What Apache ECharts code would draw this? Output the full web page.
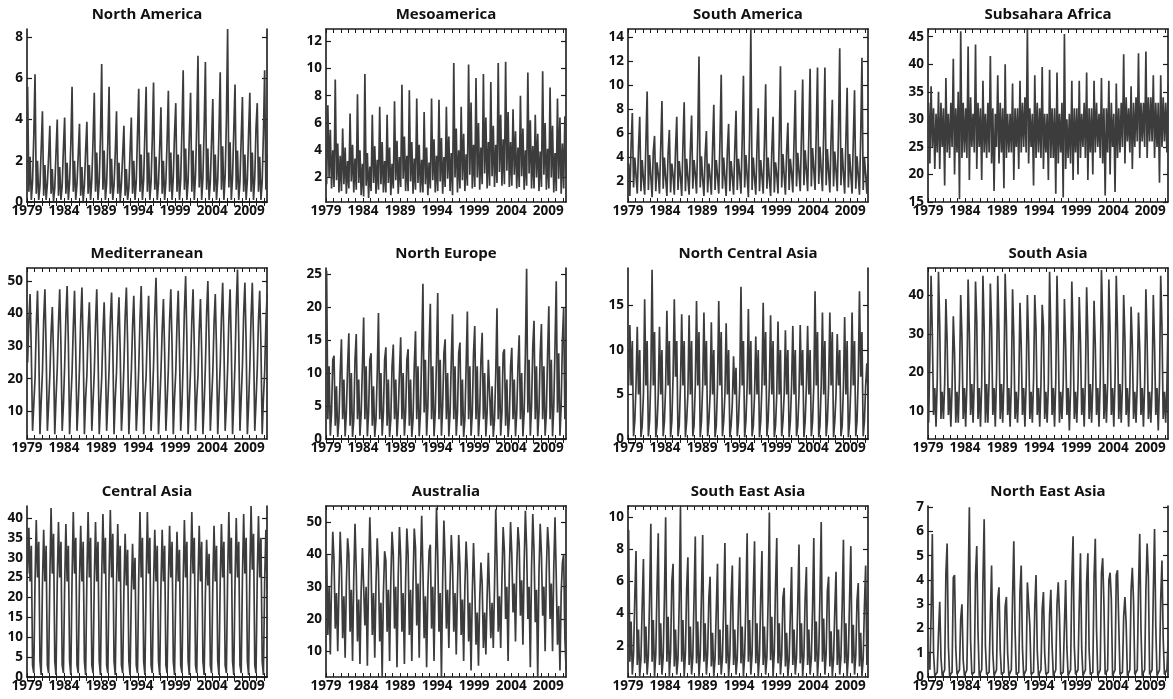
<!DOCTYPE html>
<html><head><meta charset="utf-8">
<script src="https://cdn.jsdelivr.net/npm/echarts@6/dist/echarts.min.js"></script>
<style>html,body{margin:0;padding:0;background:#fff}#c{width:1173px;height:699px}</style>
</head><body><div id="c"></div>
<script>
// ---------- data (6 readings per year: Jan-Feb .. Nov-Dec), 1979 .. early 2011 ----------
const startYear = 1979;
const stepsPerYear = 6;
const regionNames = ["North America","Mesoamerica","South America","Subsahara Africa",
  "Mediterranean","North Europe","North Central Asia","South Asia",
  "Central Asia","Australia","South East Asia","North East Asia"];
const yearTicks = [1979,1980,1981,1982,1983,1984,1985,1986,1987,1988,1989,1990,1991,1992,1993,1994,1995,1996,1997,1998,1999,2000,2001,2002,2003,2004,2005,2006,2007,2008,2009,2010,2011];
const yearLabels = [1979,1984,1989,1994,1999,2004,2009];

const northAmerica = [
5.6,.5,2.2,.1,1.0,3.2, 6.2,.4,2.0,.1,.8,2.6, 4.4,.3,1.8,.1,.9,2.2, 3.7,.4,1.6,.05,.7,2.4,
4.0,.3,1.7,.1,.8,2.6, 4.1,.4,1.9,.1,1.0,2.8, 5.6,.5,2.0,.1,.9,2.3, 3.8,.3,1.7,.05,.8,2.5,
3.9,.4,1.8,.1,1.1,3.0, 5.3,.5,2.4,.1,1.0,3.2, 6.7,.6,2.5,.1,.9,2.9, 5.6,.4,2.1,.1,.8,2.4,
4.4,.4,1.9,.05,.9,2.3, 3.7,.3,1.6,.1,.7,2.5, 4.1,.4,2.0,.1,1.0,3.3, 5.5,.5,2.3,.1,1.1,3.4,
5.6,.5,2.4,.1,1.0,3.1, 5.8,.6,2.2,.1,.9,2.7, 4.6,.4,2.0,.1,1.0,3.0, 5.4,.5,2.4,.1,1.2,3.3,
4.8,.5,2.3,.1,1.1,3.5, 6.4,.6,2.6,.1,1.0,3.2, 5.3,.5,2.5,.1,1.3,3.8, 7.1,.7,2.8,.1,1.2,3.6,
6.8,.6,2.6,.1,1.0,3.0, 5.0,.5,2.3,.1,1.1,3.4, 6.3,.6,2.7,.1,1.3,3.9, 8.4,.7,2.9,.1,1.2,3.5,
5.7,.6,2.5,.1,1.0,3.1, 5.1,.5,2.3,.1,1.1,3.4, 5.3,.5,2.4,.1,1.2,3.6, 4.8,.5,2.2,.1,1.0,3.3,
6.4,.6,2.3];
const mesoamerica = [
1.5,7.3,2.0,5.5,1.2,4.0, 1.3,9.2,1.8,4.5,.9,3.6, 1.0,5.6,1.5,4.2,.8,3.2, 1.2,6.7,1.7,4.4,.9,3.4,
1.1,8.1,1.6,4.0,.7,3.0, .6,9.6,1.4,3.8,.5,2.8, 1.0,6.6,1.6,4.3,.8,3.3, 1.1,7.2,1.5,4.6,.9,3.2,
.9,6.6,1.6,4.2,.7,3.0, 1.2,7.6,1.8,4.7,.8,3.5, 1.3,8.8,1.9,5.0,1.0,3.6, 1.0,8.4,1.7,4.6,.8,3.4,
1.1,7.8,1.6,4.4,.9,3.3, .9,6.8,1.5,4.2,.7,3.1, 1.2,7.8,1.8,4.8,.9,3.6, 1.0,7.7,1.7,4.9,.8,3.5,
1.3,7.2,1.9,5.0,1.0,3.8, .7,10.4,2.0,5.6,.9,4.0, 1.2,7.2,1.8,5.2,1.0,3.7, 1.4,10.3,2.2,7.5,1.2,4.4,
1.3,9.3,2.0,6.0,1.1,4.2, 1.5,9.6,2.3,6.4,1.2,4.6, 1.4,9.0,2.1,5.8,1.3,4.4, 1.6,10.4,2.4,6.6,1.4,4.8,
1.5,10.5,2.5,6.8,1.3,4.6, 1.4,7.0,2.2,5.4,1.2,4.2, 1.3,8.0,2.1,5.6,1.1,4.0, 1.4,9.7,2.3,6.2,1.2,4.3,
1.2,6.6,2.0,5.2,1.0,3.9, 1.3,9.8,2.2,6.0,1.1,4.1, 1.2,8.6,2.0,5.8,.9,3.8, 1.0,7.8,1.9,6.4,.8,4.5,
1.2,6.5,2.0];
const southAmerica = [
3.5,.8,5.0,7.7,1.5,4.0, 2.5,1.0,4.8,7.4,1.2,3.8, 2.2,.9,5.2,9.5,1.3,4.2, 2.4,.7,4.5,5.8,1.2,3.6,
2.6,1.0,4.9,8.7,1.4,4.0, 2.3,.8,4.4,6.3,1.1,3.5, 2.5,.9,4.7,7.4,1.3,3.7, 2.4,.8,5.0,8.6,1.2,3.9,
2.3,.9,4.6,7.5,1.4,3.8, 2.6,1.0,5.6,12.4,1.5,4.1, 2.2,.8,4.3,6.2,1.1,3.5, 2.4,.9,4.8,8.4,1.3,3.8,
2.5,1.0,5.4,10.9,1.4,4.0, 2.3,.8,4.6,6.8,1.2,3.7, 2.4,.9,4.7,7.9,1.3,3.9, 2.6,1.0,5.5,10.8,1.5,4.2,
2.5,.7,6.0,14.7,1.3,4.0, 2.3,.9,4.9,8.1,1.2,3.8, 2.5,1.0,5.2,10.1,1.4,4.0, 2.2,.8,4.6,7.4,1.1,3.6,
2.6,1.0,5.5,11.6,1.5,4.3, 2.5,.9,4.5,6.9,1.3,3.9, 2.7,1.1,5.4,9.6,1.6,4.4, 2.8,1.2,5.8,10.5,1.7,4.6,
2.9,1.2,6.0,11.4,1.6,4.8, 3.0,1.3,6.2,11.5,1.8,4.9, 2.9,1.2,6.0,11.5,1.7,4.7, 2.8,1.1,5.6,8.8,1.6,4.5,
2.9,1.2,6.2,13.1,1.7,4.8, 2.7,1.0,5.5,9.8,1.5,4.3, 2.6,1.0,5.4,9.6,1.4,4.1, 2.5,.9,5.8,12.3,1.3,4.0,
2.6,1.0,3.5];
const subsaharaAfrica = [
33,22,36,25,32,21, 31,24,35,21,33,25, 32,18,37.5,24,31,23, 33,25,41,20,32,24,
35,15.5,46,23,33,24, 32,23,43.2,19,34,25, 31,24,43.6,21,33,25, 32,19,37,24,31,23,
33,24,41.5,22,32,17, 31,25,38,22,33,24, 32,17.5,40,23,31,24, 31,24,36.5,19,32,25,
32,21,37,24,33,25, 34,24,46.5,22,32,25, 31,18,38,23,33,24, 32,23,39.5,21,31,24,
31,19,39,23,32,23, 32,16.5,38.5,22,31,24, 33,15.8,45.5,21,30,23, 31,22,37,19,32,24,
32,20,37,23,31,25, 33,23,38.5,19,32,24, 32,20,37,24,33,25, 31,23,37.5,22,32,16.2,
32,24,37,20,33,25, 31,16.8,36.5,23,32,24, 33,25,41.8,22,34,26, 32,24,36,21,33,25,
34,26,42,23,33,26, 33,25,42.3,23,34,26, 34,26,38,23,33,25, 33,18.5,38,25,34,26,
33,24,36.5];
const mediterranean = [
25,38,46,28,4,12, 20,36,47,30,3,13, 22,38,47.5,29,4,12, 21,34,42,27,3,14,
23,37,47.5,30,4,12, 24,39,48.5,31,3,13, 22,36,47,28,4,12, 23,38,48,30,3,14,
21,35,43.5,28,4,13, 22,37,47.5,29,3,12, 20,34,43.5,27,4,13, 23,38,46.5,30,3,14,
22,36,45,28,4,12, 24,39,48,31,3,13, 22,36,45.5,29,4,12, 23,38,48.5,30,3,14,
21,35,45.5,28,4,13, 24,40,51,32,3,12, 22,35,44.5,28,4,13, 23,38,47.5,30,3,14,
22,37,47,29,4,12, 25,41,51.5,32,3,13, 23,38,47.5,30,4,14, 21,35,44.5,28,3,12,
24,40,50,31,4,13, 22,37,46,29,3,14, 24,39,49.5,31,4,12, 23,38,47.5,30,3,13,
25,42,53.5,33,4,14, 24,40,49.5,31,3,12, 24,39,49.5,31,4,13, 23,38,47,30,3,14,
22,37,46];
const northEurope = [
25.5,3,11,.5,4,12, 12.6,2,8,.3,3,10, 15.1,3,9,.4,4,11, 16.0,2,10,.3,3,12,
15.9,3,9,.5,4,11, 18.4,3,11,.4,4,12, 13.0,2,8,.3,3,10, 19.1,3,10,.5,4,12,
13.9,2,9,.3,3,11, 14.3,3,9,.4,4,10, 15.4,3,10,.5,4,12, 13.6,2,9,.3,3,11,
16.3,3,11,.4,4,13, 23.5,4,12,.5,5,14, 20.5,3,11,.4,4,12, 22.1,3,12,.5,5,13,
15.1,3,10,.4,4,12, 18.9,3,11,.5,4,13, 14.6,2,9,.3,3,11, 19.3,3,11,.5,4,13,
17.1,3,11,.4,4,12, 16.1,3,10,.4,4,12, 12.3,2,8,.3,3,10, 19.8,3,11,.5,4,13,
13.6,2,9,.3,3,11, 13.8,3,9,.4,4,11, 15.7,3,10,.4,4,13, 25.8,4,12,.5,5,14,
17.9,3,11,.4,4,13, 17.4,3,11,.5,4,13, 20.1,3,12,.4,5,14, 23.9,4,13,.5,5,15,
19.9,3,9];
const northCentralAsia = [
6,12.8,6,11,.3,2, 6,12.6,5,10,.2,1.5, 5,15.7,6,11,.3,2, 7,19.0,6,12,.2,1.5,
5,12.6,5,10,.3,2, 6,14.4,6,11,.2,2, 7,15.7,7,11,.3,1.5, 6,14.0,6,11,.2,2,
5,13.9,5,11,.3,1.5, 6,15.5,6,12,.2,2, 6,14.2,6,11,.3,2, 5,13.1,5,10,.2,1.5,
6,15.5,6,12,.3,2, 5,13.0,5,10,.2,1.5, 4,9.3,5,8,.3,2, 6,17.1,6,11,.2,2,
6,14.6,5,11,.3,1.5, 5,11.5,5,10,.2,2, 6,15.3,6,12,.3,2, 6,13.9,5,11,.2,1.5,
5,13.2,5,10,.3,2, 5,12.2,5,10,.2,2, 6,12.7,5,10,.3,1.5, 5,12.8,6,10,.2,2,
6,12.7,5,10,.3,2, 6,16.6,6,12,.2,1.5, 6,14.2,5,11,.3,2, 6,14.2,6,12,.2,2,
5,11.8,6,10,.3,1.5, 6,13.7,5,11,.2,2, 6,14.2,6,11,.3,2, 7,16.6,7,12,.3,2,
6,8.5,5];
const southAsia = [
7,24,45,30,9,16, 6,18,46,32,8,15, 8,17,39,28,9,16, 6,16,34.5,25,7,15,
7,18,40,29,8,16, 6,17,44,30,9,17, 7,18,43.5,33,8,16, 6,17,45,31,7,17,
7,18,43,32,9,16, 6,19,45,30,8,17, 7,18,45.5,33,9,16, 6,17,41.5,29,8,15,
7,16,38,27,9,16, 6,17,40,28,8,15, 7,18,40,31,9,16, 6,17,37.5,32,8,15,
7,17,46,30,9,16, 6,18,45,28,7,15, 8,17,39,27,9,16, 5,16,43.5,30,8,15,
7,17,39.5,28,9,16, 6,18,42,29,8,17, 7,17,38.5,27,9,16, 6,18,46.5,33,8,17,
7,17,44,30,9,16, 6,18,45,31,8,17, 7,17,40,29,9,16, 6,16,37,27,8,15,
7,17,35.5,26,9,16, 6,17,41.5,28,8,15, 7,16,40,27,9,16, 5,17,45,32,8,15,
7,16,35];
const centralAsia = [
26,37.5,24,33,3,1, 24,39.5,25,34,4,.5, 23,37,24,33,3,1, 25,42.5,26,36,4,.5,
24,39,25,34,3,1, 23,38.5,24,33,4,.5, 25,41.5,26,35,3,1, 24,38,24,34,4,.5,
25,41.5,25,35,3,1, 24,39,24,34,4,.5, 25,41,26,35,3,1, 26,42,25,36,4,.5,
23,38.5,24,33,3,1, 22,36,23,32,4,.5, 21,33.5,22,30,3,1, 25,41.5,25,35,4,.5,
24,41.5,26,35,3,1, 23,37,24,33,4,.5, 23,37,24,33,3,1, 24,38,25,34,4,.5,
22,36.5,24,32,3,1, 24,39.5,25,34,4,.5, 25,41.5,26,35,3,1, 24,38,24,34,4,.5,
21,34.5,23,31,3,1, 23,38,24,33,4,.5, 24,38.5,25,34,3,1, 25,41.5,26,35,4,.5,
24,40,25,34,3,1, 25,41,26,35,4,.5, 26,43,27,36,3,1, 25,40.5,25,35,4,.5,
24,37,22];
const australia = [
40,15,30,9,32,47, 38,17,28,10,30,47, 36,14,27,8,31,45, 40,16,29,7,33,49.5,
35,13,26,6,29,42, 42,18,30,5.5,34,51.5, 37,15,28,8,31,45, 35,13,25,2,28,41,
38,16,29,7,32,47, 40,17,30,5,33,48.5, 39,16,28,6,32,48, 40,15,29,7,31,48,
42,18,31,8,34,52, 35,14,27,5,29,41, 43,17,30,7,33,54.5, 40,16,28,2,32,50.5,
38,17,29,11,31,46, 37,16,28,9,30,46, 36,15,26,7,30,44, 35,13,25,4,28,43.5,
30,12,22,5.5,26,37.5, 31,11,22,9,27,40.5, 40,14,25,11,30,54, 38,16,27,11,32,48.5,
41,20,30,7,35,50, 40,22,31,13,36,48.5, 43,21,32,12,37,53.5, 42,20,30,5,36,52.5,
41,19,29,2,34,49.5, 40,21,30,10,35,48.5, 42,20,31,10,36,51.5, 33,12,24,4,28,37.5,
40,14,4];
const southEastAsia = [
9.2,1.0,3.5,.2,1.5,5.0, 7.9,.8,3.0,.1,1.2,4.5, 7.4,.9,3.2,.2,1.4,5.0, 9.6,1.0,3.6,.1,1.5,5.5,
9.0,.8,3.4,.2,1.3,5.0, 10.0,1.0,3.8,.1,1.6,6.0, 7.1,.7,3.0,.2,1.2,4.8, 10.6,1.0,3.6,.1,1.5,5.5,
7.5,.8,3.2,.2,1.3,5.0, 8.8,.9,3.5,.1,1.4,5.2, 8.9,1.0,3.4,.2,1.5,5.0, 6.3,.7,2.8,.1,1.2,4.2,
7.1,.8,3.0,.2,1.3,4.6, 8.4,.9,3.3,.1,1.4,5.0, 7.0,.8,3.0,.2,1.2,4.5, 7.5,.9,3.2,.1,1.4,4.8,
9.0,1.0,3.6,.2,1.5,5.4, 8.5,.9,3.4,.1,1.4,5.0, 7.9,.8,3.2,.2,1.3,4.8, 10.3,1.1,3.8,.1,1.6,5.8,
8.7,.9,3.4,.2,1.4,5.0, 5.6,.7,2.8,.1,1.1,4.0, 6.9,.8,3.0,.2,1.3,4.6, 8.3,.9,3.4,.1,1.4,5.0,
6.9,.8,3.0,.2,1.2,4.4, 8.7,1.0,3.5,.1,1.5,5.2, 9.7,1.0,3.7,.2,1.5,5.4, 6.3,.7,2.9,.1,1.2,4.2,
6.6,.8,3.0,.2,1.3,4.6, 8.6,.9,3.4,.1,1.4,5.0, 8.2,.9,3.3,.2,1.4,4.8, 5.9,.7,2.8,.1,1.2,4.4,
7.0,.8,3.0];
const northEastAsia = [
1.0,.3,2.5,5.9,1.0,.05, .05,.2,1.8,3.1,.8,.05, .1,.3,4.3,5.5,1.3,.05, .05,.2,4.1,4.2,1.2,.1,
.1,.3,2.4,3.0,.7,.05, .05,.3,3.6,7.0,1.5,.1, .1,.2,4.2,5.4,1.9,.05, .05,.3,3.9,6.5,1.3,.1,
.1,.2,2.5,4.6,1.0,.05, .05,.3,3.2,3.7,1.1,.1, .1,.2,2.9,3.3,1.0,.05, .05,.3,3.3,5.6,2.0,.1,
.1,.2,3.5,4.6,1.2,.05, .05,.3,3.9,3.9,2.1,.1, .1,.2,2.9,4.2,1.1,.05, .05,.3,2.8,3.5,1.0,.1,
.1,.2,2.6,3.6,1.3,.05, .05,.3,3.0,3.9,2.5,.1, .1,.2,2.1,4.0,1.2,.05, .05,.3,4.0,5.8,1.3,.1,
.1,.3,2.9,5.1,1.2,.05, .05,.3,3.9,5.1,1.1,.1, .1,.2,4.1,5.7,2.0,.05, .05,.3,4.3,4.9,3.0,.1,
.1,.3,4.0,4.3,3.2,.05, .05,.3,4.2,4.4,2.2,.1, .1,.2,2.5,3.3,2.2,.05, .05,.3,3.6,4.5,3.1,.1,
.1,.3,3.6,5.9,2.0,.05, .05,.3,3.6,5.5,4.1,.1, .1,.3,3.5,6.1,2.1,.05, .05,.3,3.2,4.8,1.6,.1,
.1,.3,1.5];

const regionSeries = [northAmerica, mesoamerica, southAmerica, subsaharaAfrica,
  mediterranean, northEurope, northCentralAsia, southAsia,
  centralAsia, australia, southEastAsia, northEastAsia];

// y-axis tick labels per panel
const yTickLabels = [
  [0,2,4,6,8], [2,4,6,8,10,12], [2,4,6,8,10,12,14], [15,20,25,30,35,40,45],
  [10,20,30,40,50], [0,5,10,15,20,25], [0,5,10,15], [10,20,30,40],
  [0,5,10,15,20,25,30,35,40], [10,20,30,40,50], [2,4,6,8,10], [0,1,2,3,4,5,6,7]
];
// y-axis extents per panel
const yRanges = [
  [0,8.4], [0.2,12.9], [0.3,14.7], [15,46.4],
  [1.5,54], [0,25.9], [0,19.2], [2.8,47],
  [0,43], [2,55], [0.05,10.7], [0,7.05]
];
const xRange = [1979, 2011.4];

// ---------- layout ----------
const colLeft = [27, 326, 628, 928];
const rowTop = [29, 268, 506];
const rowH = [173, 171, 171];
const plotW = 240;
const FONT = "'Open Sans', 'Noto Sans', sans-serif";
const frame = { show: true, lineStyle: { color: '#1a1a1a', width: 1.6 } };

const grids = [], xAxes = [], yAxes = [], titles = [], series = [];
regionNames.forEach((name, p) => {
  const r = Math.floor(p / 4), c = p % 4;
  grids.push({ left: colLeft[c], top: rowTop[r], width: plotW, height: rowH[r], outerBoundsMode: 'none' });
  titles.push({
    text: name, left: colLeft[c] + plotW / 2, top: rowTop[r] - 22, textAlign: 'center', padding: 0,
    textStyle: { fontFamily: FONT, fontWeight: 700, fontSize: 15, color: '#111' }
  });
  const xBase = { gridIndex: p, type: 'value', min: xRange[0], max: xRange[1], splitLine: { show: false }, axisLine: frame };
  xAxes.push(Object.assign({}, xBase, {
    position: 'bottom',
    axisTick: { show: true, inside: true, length: 4, customValues: yearTicks, lineStyle: { color: '#1a1a1a', width: 1 } },
    axisLabel: { show: true, customValues: yearLabels, formatter: v => String(v), margin: 2,
      fontFamily: FONT, fontWeight: 700, fontSize: 13.5, color: '#111' }
  }));
  xAxes.push(Object.assign({}, xBase, {
    position: 'top',
    axisTick: { show: true, inside: true, length: 4, customValues: yearTicks, lineStyle: { color: '#1a1a1a', width: 1 } },
    axisLabel: { show: false }
  }));
  const yBase = { gridIndex: p, type: 'value', min: yRanges[p][0], max: yRanges[p][1], splitLine: { show: false }, axisLine: frame };
  yAxes.push(Object.assign({}, yBase, {
    position: 'left',
    axisTick: { show: true, inside: true, length: 5, customValues: yTickLabels[p], lineStyle: { color: '#1a1a1a', width: 1.2 } },
    axisLabel: { show: true, customValues: yTickLabels[p], formatter: v => String(v), margin: 4,
      fontFamily: FONT, fontWeight: 700, fontSize: 13.5, color: '#111' }
  }));
  yAxes.push(Object.assign({}, yBase, {
    position: 'right',
    axisTick: { show: true, inside: true, length: 5, customValues: yTickLabels[p], lineStyle: { color: '#1a1a1a', width: 1.2 } },
    axisLabel: { show: false }
  }));
  series.push({
    type: 'line', xAxisIndex: 2 * p, yAxisIndex: 2 * p,
    data: regionSeries[p].map((v, i) => [startYear + (i + 0.5) / stepsPerYear, v]),
    showSymbol: false, symbol: 'none', clip: true,
    lineStyle: { color: '#3c3c3c', width: 1.7, join: 'miter', miterLimit: 2 }
  });
});

const chart = echarts.init(document.getElementById('c'), null, { renderer: 'canvas' });
chart.setOption({
  animation: false,
  backgroundColor: '#fff',
  title: titles, grid: grids, xAxis: xAxes, yAxis: yAxes, series: series
});
</script>
</body></html>
